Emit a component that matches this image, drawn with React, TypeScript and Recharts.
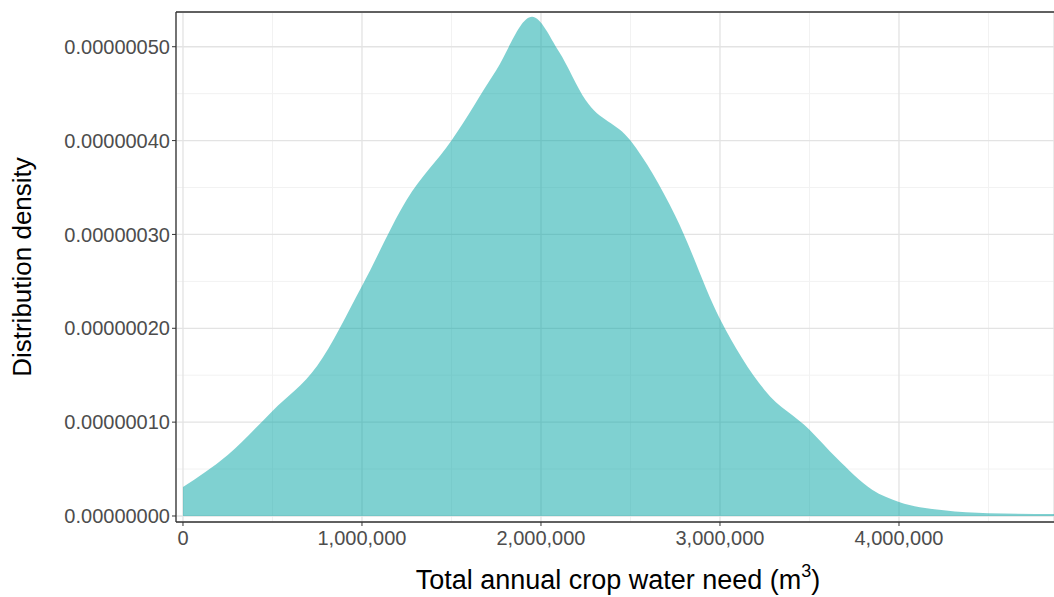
import React, { useLayoutEffect } from 'react';
import { ComposedChart, Area, XAxis, YAxis, CartesianGrid, ReferenceLine, Label } from 'recharts';

const xs = [0, 250000, 500000, 750000, 1000000, 1250000, 1500000, 1750000, 1950000, 2100000, 2250000, 2500000, 2750000, 3000000, 3250000, 3500000, 3650000, 3850000, 4000000, 4250000, 4500000, 4866000];
const dens = [0.31, 0.65, 1.12, 1.6, 2.45, 3.37, 4.0, 4.75, 5.32, 4.95, 4.43, 4.0, 3.2, 2.1, 1.34, 0.92, 0.62, 0.28, 0.15, 0.06, 0.03, 0.02];
const xTicks = [0, 1000000, 2000000, 3000000, 4000000];
const yTicks = [0, 1e-7, 2e-7, 3e-7, 4e-7, 5e-7];
const xMinor = [500000, 1500000, 2500000, 3500000, 4500000];
const yMinor = [0.5e-7, 1.5e-7, 2.5e-7, 3.5e-7, 4.5e-7];

const data = xs.map((x, i) => ({ x, y: dens[i] * 1e-7 }));
const tickStyle = { fill: '#4d4d4d', fontSize: 20, fontFamily: 'Arial, Liberation Sans, sans-serif' };
const XD = [-39000, 4866000];
const YD = [-0.0064e-6, 0.537e-6];

const XLabel = () => (
  <text x={618} y={589} textAnchor="middle" fontSize={27} fill="#000">
    Total annual crop water need (m<tspan dy={-12} fontSize={18}>3</tspan><tspan dy={12}>)</tspan>
  </text>
);

export default function App() {
  useLayoutEffect(() => { document.body.style.margin = '0'; }, []);
  return (
    <div style={{ width: 1054, height: 597, overflow: 'hidden', fontFamily: 'Arial, Liberation Sans, sans-serif' }}>
      <ComposedChart width={1054} height={597} data={data} margin={{ top: 12, right: 0, bottom: 45, left: 12 }}>
        <XAxis xAxisId="minor" dataKey="x" type="number" domain={XD} ticks={xMinor} allowDataOverflow hide />
        <YAxis yAxisId="minor" type="number" domain={YD} ticks={yMinor} allowDataOverflow hide />
        <CartesianGrid xAxisId="minor" yAxisId="minor" stroke="#f2f2f2" strokeWidth={1} />
        <CartesianGrid stroke="#e3e3e3" strokeWidth={1.3} />
        <XAxis dataKey="x" type="number" domain={XD} ticks={xTicks} allowDataOverflow
          tickFormatter={(v: number) => v.toLocaleString('en-US')} tick={tickStyle} tickLine={{ stroke: '#333' }}
          axisLine={false} tickSize={4} tickMargin={5}>
          <Label content={<XLabel />} />
        </XAxis>
        <YAxis type="number" domain={YD} ticks={yTicks} allowDataOverflow width={164}
          tickFormatter={(v: number) => v.toFixed(8)} tick={tickStyle} tickLine={{ stroke: '#333' }}
          axisLine={false} tickSize={4}>
          <Label value="Distribution density" angle={-90} position="insideLeft" offset={10} style={{ fill: '#000', fontSize: 26, textAnchor: 'middle' }} />
        </YAxis>
        <Area dataKey="y" type="monotone" fill="#00a3a3" fillOpacity={0.5} stroke="none" isAnimationActive={false} />
        <ReferenceLine x={XD[0]} stroke="#333" strokeWidth={1.3} />
        <ReferenceLine y={YD[1]} stroke="#333" strokeWidth={1.3} />
        <ReferenceLine y={YD[0]} stroke="#333" strokeWidth={1.3} />
      </ComposedChart>
    </div>
  );
}
